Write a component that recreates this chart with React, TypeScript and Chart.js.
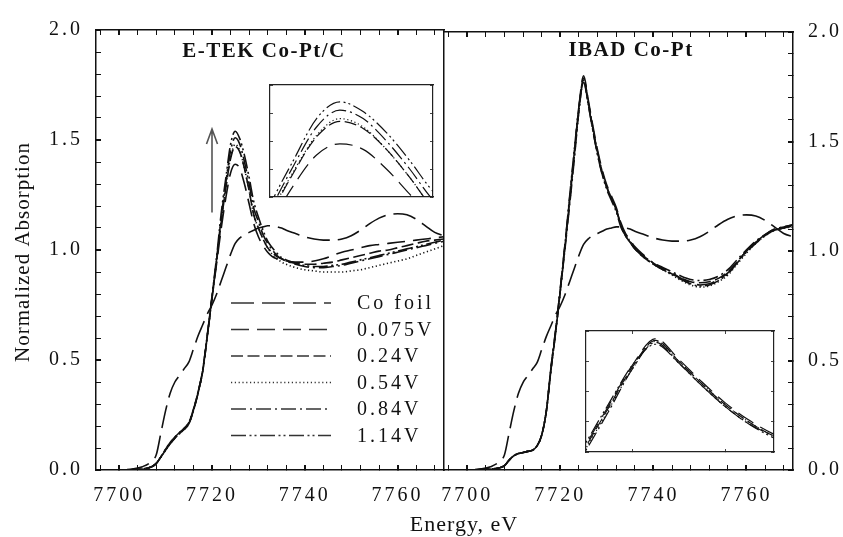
import React, { useEffect, useRef } from 'react';
import { Chart, registerables } from 'chart.js';

Chart.register(...registerables);

const W = 843;
const H = 537;
const SERIF = "'Liberation Serif', 'Times New Roman', Times, serif";

// ---------------- data ----------------
const energy = [7695, 7700, 7703, 7705, 7707, 7708, 7709, 7710, 7711, 7712, 7713, 7714, 7715, 7716, 7717, 7718, 7719, 7720, 7721, 7722, 7723, 7724, 7725, 7726, 7727, 7728, 7729, 7730, 7731, 7732, 7733, 7734, 7735, 7736, 7738, 7740, 7742, 7744, 7746, 7748, 7750, 7752, 7754, 7756, 7758, 7760, 7762, 7764, 7766, 7768, 7770];

const coFoil = [0, 0, 0.005, 0.015, 0.04, 0.07, 0.17, 0.27, 0.35, 0.40, 0.43, 0.46, 0.49, 0.55, 0.61, 0.66, 0.71, 0.75, 0.80, 0.86, 0.92, 0.98, 1.03, 1.055, 1.07, 1.08, 1.09, 1.10, 1.105, 1.11, 1.11, 1.105, 1.10, 1.09, 1.075, 1.06, 1.05, 1.045, 1.045, 1.05, 1.065, 1.09, 1.12, 1.145, 1.16, 1.165, 1.16, 1.14, 1.11, 1.08, 1.065];

const etek075 = [0, 0, 0, 0.005, 0.015, 0.03, 0.06, 0.09, 0.12, 0.145, 0.165, 0.185, 0.21, 0.27, 0.35, 0.45, 0.61, 0.78, 0.94, 1.10, 1.24, 1.35, 1.39, 1.37, 1.30, 1.21, 1.12, 1.06, 1.02, 0.99, 0.97, 0.96, 0.955, 0.95, 0.945, 0.945, 0.95, 0.96, 0.975, 0.99, 1.0, 1.01, 1.02, 1.025, 1.03, 1.035, 1.04, 1.045, 1.05, 1.055, 1.06];
const etek024 = [0, 0, 0, 0.005, 0.015, 0.03, 0.06, 0.09, 0.12, 0.145, 0.165, 0.185, 0.21, 0.27, 0.35, 0.45, 0.61, 0.78, 0.95, 1.13, 1.285, 1.415, 1.47, 1.445, 1.37, 1.27, 1.16, 1.10, 1.05, 1.01, 0.99, 0.97, 0.96, 0.95, 0.94, 0.935, 0.935, 0.94, 0.945, 0.955, 0.965, 0.975, 0.985, 0.995, 1.0, 1.01, 1.02, 1.03, 1.04, 1.045, 1.05];
const etek054 = [0, 0, 0, 0.005, 0.015, 0.03, 0.06, 0.09, 0.12, 0.145, 0.165, 0.185, 0.21, 0.27, 0.35, 0.45, 0.61, 0.78, 0.95, 1.135, 1.29, 1.42, 1.48, 1.45, 1.37, 1.27, 1.16, 1.10, 1.05, 1.01, 0.98, 0.96, 0.945, 0.935, 0.92, 0.91, 0.905, 0.90, 0.90, 0.90, 0.905, 0.91, 0.92, 0.93, 0.94, 0.95, 0.96, 0.975, 0.99, 1.005, 1.02];
const etek084 = [0, 0, 0, 0.005, 0.015, 0.03, 0.06, 0.095, 0.125, 0.15, 0.17, 0.19, 0.215, 0.275, 0.355, 0.455, 0.615, 0.785, 0.96, 1.15, 1.31, 1.45, 1.51, 1.48, 1.40, 1.30, 1.19, 1.13, 1.07, 1.03, 1.0, 0.975, 0.96, 0.95, 0.935, 0.925, 0.92, 0.92, 0.925, 0.93, 0.94, 0.95, 0.96, 0.97, 0.98, 0.99, 1.0, 1.01, 1.02, 1.03, 1.04];
const etek114 = [0, 0, 0, 0.005, 0.015, 0.03, 0.06, 0.095, 0.125, 0.15, 0.17, 0.19, 0.215, 0.275, 0.355, 0.455, 0.615, 0.79, 0.97, 1.17, 1.33, 1.48, 1.54, 1.505, 1.43, 1.33, 1.22, 1.15, 1.09, 1.04, 1.01, 0.985, 0.965, 0.955, 0.94, 0.93, 0.925, 0.925, 0.93, 0.935, 0.945, 0.955, 0.965, 0.975, 0.985, 0.995, 1.005, 1.015, 1.025, 1.035, 1.045];

const ibad075 = [0, 0, 0.002, 0.005, 0.01, 0.02, 0.045, 0.065, 0.075, 0.08, 0.085, 0.09, 0.11, 0.16, 0.27, 0.47, 0.64, 0.83, 1.03, 1.24, 1.45, 1.66, 1.80, 1.69, 1.57, 1.46, 1.37, 1.30, 1.25, 1.20, 1.13, 1.08, 1.05, 1.02, 0.98, 0.945, 0.92, 0.90, 0.875, 0.855, 0.845, 0.85, 0.87, 0.90, 0.95, 1.0, 1.04, 1.075, 1.10, 1.11, 1.12];
const ibad024 = [0, 0, 0.002, 0.005, 0.01, 0.02, 0.045, 0.065, 0.075, 0.08, 0.085, 0.09, 0.11, 0.16, 0.27, 0.46, 0.63, 0.82, 1.02, 1.23, 1.44, 1.65, 1.79, 1.68, 1.56, 1.45, 1.36, 1.29, 1.24, 1.19, 1.12, 1.07, 1.04, 1.01, 0.97, 0.94, 0.915, 0.895, 0.875, 0.86, 0.855, 0.86, 0.875, 0.905, 0.95, 1.0, 1.04, 1.07, 1.095, 1.105, 1.115];
const ibad054 = [0, 0, 0.002, 0.005, 0.01, 0.02, 0.045, 0.065, 0.075, 0.08, 0.085, 0.09, 0.11, 0.16, 0.27, 0.46, 0.63, 0.82, 1.02, 1.22, 1.43, 1.64, 1.785, 1.68, 1.56, 1.45, 1.36, 1.29, 1.24, 1.19, 1.12, 1.075, 1.045, 1.015, 0.975, 0.94, 0.915, 0.89, 0.865, 0.845, 0.835, 0.84, 0.86, 0.89, 0.94, 0.99, 1.035, 1.07, 1.095, 1.105, 1.11];
const ibad084 = [0, 0, 0.002, 0.005, 0.01, 0.02, 0.045, 0.065, 0.075, 0.08, 0.085, 0.09, 0.11, 0.16, 0.27, 0.46, 0.63, 0.82, 1.01, 1.21, 1.42, 1.64, 1.78, 1.67, 1.55, 1.44, 1.35, 1.29, 1.24, 1.19, 1.12, 1.07, 1.04, 1.015, 0.975, 0.945, 0.925, 0.905, 0.885, 0.87, 0.865, 0.87, 0.885, 0.915, 0.96, 1.005, 1.045, 1.075, 1.10, 1.11, 1.12];
const ibad114 = [0, 0, 0.002, 0.005, 0.01, 0.02, 0.045, 0.065, 0.075, 0.08, 0.085, 0.09, 0.11, 0.16, 0.27, 0.47, 0.64, 0.83, 1.03, 1.25, 1.46, 1.66, 1.77, 1.67, 1.55, 1.44, 1.35, 1.28, 1.23, 1.18, 1.11, 1.07, 1.04, 1.01, 0.97, 0.94, 0.915, 0.895, 0.87, 0.85, 0.84, 0.845, 0.865, 0.895, 0.945, 0.995, 1.035, 1.07, 1.095, 1.105, 1.115];

const seriesLabels = ['Co foil', '0.075V', '0.24V', '0.54V', '0.84V', '1.14V'];
const panelTitles = ['E-TEK Co-Pt/C', 'IBAD Co-Pt'];
const xTickLabels = [7700, 7720, 7740, 7760];
const yTickLabels = [0, 0.5, 1.0, 1.5, 2.0];
const xTitle = 'Energy, eV';
const yTitle = 'Normalized Absorption';

// ranges
const X_MIN = 7695;
const X_MAX = 7770;
const leftInsetX = [7722, 7729];
const leftInsetY = [1.2, 1.6];
const rightInsetX = [7722, 7730.1];
const rightInsetY = [1.2, 1.84];
// arrow (E, from, to) in data units
const arrowE = 7720;
const arrowFrom = 1.17;
const arrowTo = 1.55;

// ---------------- styles ----------------
const dashes: number[][] = [[23, 8], [18, 8], [12, 4.5], [1.2, 2.6], [15, 4, 2, 4], [15, 3.5, 2, 3, 2, 3.5]];
const INK = '#111';

const pts = (arr: number[]) => energy.map((x, i) => ({ x, y: arr[i] }));

function makeDatasets(series: number[][], width: number, from = 0) {
  return series
    .map((arr, i) => ({
      label: seriesLabels[i],
      data: pts(arr),
      borderColor: INK,
      borderWidth: width,
      borderDash: dashes[i],
      pointRadius: 0,
      fill: false,
      cubicInterpolationMode: 'monotone',
    }))
    .slice(from);
}

const isMajorX = (v: number) => xTickLabels.some((t) => Math.abs(t - v) < 1e-6);
const isMajorY = (v: number) => yTickLabels.some((t) => Math.abs(t - v) < 1e-6);

function energyAxis(position: string, withLabels: boolean, size: number) {
  return {
    type: 'linear',
    position,
    min: X_MIN,
    max: X_MAX,
    afterFit: (s: any) => { s.height = size; },
    ticks: {
      display: withLabels,
      stepSize: 4,
      autoSkip: false,
      includeBounds: false,
      maxRotation: 0,
      minRotation: 0,
      padding: 19,
      color: INK,
      font: { family: SERIF, size: 20 },
      callback: (v: number) => (isMajorX(v) ? String(v) : ''),
    },
    grid: {
      drawOnChartArea: false,
      drawTicks: true,
      tickLength: -5,
      color: INK,
      lineWidth: (c: any) => (c.tick && isMajorX(c.tick.value) ? 2 : 1),
    },
    border: { display: true, color: INK, width: 1.5 },
  };
}

function absorptionAxis(position: string, withLabels: boolean, size: number, padding: number) {
  return {
    type: 'linear',
    position,
    min: 0,
    max: 2,
    afterFit: (s: any) => { s.width = size; },
    ticks: {
      display: withLabels,
      stepSize: 0.1,
      autoSkip: false,
      includeBounds: false,
      padding,
      color: INK,
      font: { family: SERIF, size: 20 },
      callback: (v: number) => (isMajorY(v) ? Number(v).toFixed(1) : ''),
    },
    grid: {
      drawOnChartArea: false,
      drawTicks: true,
      tickLength: -5,
      color: INK,
      lineWidth: (c: any) => (c.tick && isMajorY(c.tick.value) ? 2 : 1),
    },
    border: { display: true, color: INK, width: 1.5 },
  };
}

function insetAxis(position: string, range: number[], step: number, showTicks: boolean) {
  const horizontal = position === 'top' || position === 'bottom';
  return {
    type: 'linear',
    position,
    min: range[0],
    max: range[1],
    afterFit: (s: any) => { if (horizontal) s.height = 0; else s.width = 0; },
    ticks: { display: false, stepSize: step, autoSkip: false, includeBounds: false },
    grid: { drawOnChartArea: false, drawTicks: showTicks, tickLength: -3, color: '#444', lineWidth: 1 },
    border: { display: true, color: '#222', width: 1.2 },
  };
}

function drawText(ctx: any, s: string, x: number, y: number, font: string, o: any = {}) {
  ctx.save();
  ctx.font = font;
  ctx.fillStyle = o.color || INK;
  ctx.textAlign = o.align || 'left';
  ctx.textBaseline = o.baseline || 'alphabetic';
  ctx.letterSpacing = o.spacing || '0px';
  ctx.translate(x, y);
  if (o.rotate) ctx.rotate(o.rotate);
  ctx.fillText(s, 0, 0);
  ctx.restore();
}

const spacingPlugin = {
  id: 'tickSpacing',
  beforeDraw(chart: any) {
    chart.ctx.letterSpacing = '3px';
  },
};

const insetBgPlugin = {
  id: 'insetBg',
  beforeDraw(chart: any) {
    const { ctx, chartArea: a } = chart;
    ctx.save();
    ctx.fillStyle = '#fff';
    ctx.fillRect(a.left, a.top, a.right - a.left, a.bottom - a.top);
    ctx.restore();
  },
};

const leftDecor = {
  id: 'leftDecor',
  afterDraw(chart: any) {
    const ctx = chart.ctx;
    const xs = chart.scales.x;
    const ys = chart.scales.y;
    // arrow
    const px = xs.getPixelForValue(arrowE);
    const y0 = ys.getPixelForValue(arrowFrom);
    const y1 = ys.getPixelForValue(arrowTo);
    ctx.save();
    ctx.strokeStyle = '#555';
    ctx.lineWidth = 1.6;
    ctx.setLineDash([]);
    ctx.beginPath();
    ctx.moveTo(px, y0);
    ctx.lineTo(px, y1);
    ctx.moveTo(px - 5.5, y1 + 15);
    ctx.lineTo(px, y1);
    ctx.lineTo(px + 5.5, y1 + 15);
    ctx.stroke();
    ctx.restore();

    // legend
    chart.data.datasets.forEach((ds: any, i: number) => {
      const y = 303 + i * 26.5;
      ctx.save();
      ctx.strokeStyle = '#333';
      ctx.lineWidth = 1.4;
      ctx.setLineDash(ds.borderDash || []);
      ctx.beginPath();
      ctx.moveTo(231, y);
      ctx.lineTo(331, y);
      ctx.stroke();
      ctx.restore();
      drawText(ctx, ds.label, 357, y + 1, `20px ${SERIF}`, { baseline: 'middle', spacing: '3px' });
    });

    // panel title
    drawText(ctx, panelTitles[0], 264, 57, `bold 21px ${SERIF}`, { align: 'center', spacing: '1.5px' });
    // axis titles
    drawText(ctx, yTitle, 23, 252, `21px ${SERIF}`, { align: 'center', baseline: 'middle', spacing: '1px', rotate: -Math.PI / 2 });
    drawText(ctx, xTitle, 464, 531, `22px ${SERIF}`, { align: 'center', spacing: '1px' });
  },
};

const rightDecor = {
  id: 'rightDecor',
  afterDraw(chart: any) {
    drawText(chart.ctx, panelTitles[1], 631, 56, `bold 21px ${SERIF}`, { align: 'center', spacing: '1.5px' });
  },
};

const baseOptions = (padding: any, scales: any) => ({
  responsive: false,
  maintainAspectRatio: false,
  devicePixelRatio: 1,
  animation: false,
  events: [],
  layout: { padding },
  plugins: { legend: { display: false }, tooltip: { enabled: false }, title: { display: false } },
  scales,
});

function leftConfig(): any {
  return {
    type: 'line',
    data: { datasets: makeDatasets([coFoil, etek075, etek024, etek054, etek084, etek114], 1.6) },
    options: baseOptions({ left: 0, right: W - 444, top: 24, bottom: 0 }, {
      x: energyAxis('bottom', true, 67),
      xTop: energyAxis('top', false, 0),
      y: absorptionAxis('left', true, 96, 18),
      yDiv: {
        type: 'linear',
        position: 'right',
        afterFit: (s: any) => { s.width = 0; },
        ticks: { display: false },
        grid: { display: false, drawTicks: false },
        border: { display: true, color: INK, width: 1.5 },
      },
    }),
    plugins: [spacingPlugin, leftDecor],
  };
}

function rightConfig(): any {
  return {
    type: 'line',
    data: { datasets: makeDatasets([coFoil, ibad075, ibad024, ibad054, ibad084, ibad114], 1.6) },
    options: baseOptions({ left: 444, right: 0, top: 24, bottom: 0 }, {
      x: energyAxis('bottom', true, 67),
      xTop: energyAxis('top', false, 0),
      y: absorptionAxis('right', true, W - 793, 20),
    }),
    plugins: [spacingPlugin, rightDecor],
  };
}

function leftInsetConfig(): any {
  return {
    type: 'line',
    data: { datasets: makeDatasets([coFoil, etek075, etek024, etek054, etek084, etek114], 1.2, 1) },
    options: baseOptions({ left: 270, right: W - 433, top: 85, bottom: H - 197 }, {
      x: insetAxis('bottom', leftInsetX, 1, false),
      xTop: insetAxis('top', leftInsetX, 1, false),
      y: insetAxis('left', leftInsetY, 0.1, true),
      yR: insetAxis('right', leftInsetY, 0.1, true),
    }),
    plugins: [insetBgPlugin],
  };
}

function rightInsetConfig(): any {
  return {
    type: 'line',
    data: { datasets: makeDatasets([coFoil, ibad075, ibad024, ibad054, ibad084, ibad114], 1.2, 1) },
    options: baseOptions({ left: 586, right: W - 774, top: 331, bottom: H - 452 }, {
      x: insetAxis('bottom', rightInsetX, 4, true),
      xTop: insetAxis('top', rightInsetX, 4, true),
      y: insetAxis('left', rightInsetY, 0.16, true),
      yR: insetAxis('right', rightInsetY, 0.16, true),
    }),
    plugins: [insetBgPlugin],
  };
}

export default function App() {
  const r0 = useRef<HTMLCanvasElement>(null);
  const r1 = useRef<HTMLCanvasElement>(null);
  const r2 = useRef<HTMLCanvasElement>(null);
  const r3 = useRef<HTMLCanvasElement>(null);
  const refs = [r0, r1, r2, r3];

  useEffect(() => {
    const cfgs = [leftConfig(), rightConfig(), leftInsetConfig(), rightInsetConfig()];
    const charts = refs.map((r, i) => new Chart(r.current as HTMLCanvasElement, cfgs[i]));
    return () => charts.forEach((c) => c.destroy());
  }, []);

  return (
    <div style={{ position: 'absolute', left: 0, top: 0, width: W, height: H, background: '#fff', overflow: 'hidden' }}>
      {refs.map((r, i) => (
        <canvas
          key={i}
          ref={r}
          width={W}
          height={H}
          style={{ position: 'absolute', left: 0, top: 0, width: W, height: H }}
        />
      ))}
    </div>
  );
}
